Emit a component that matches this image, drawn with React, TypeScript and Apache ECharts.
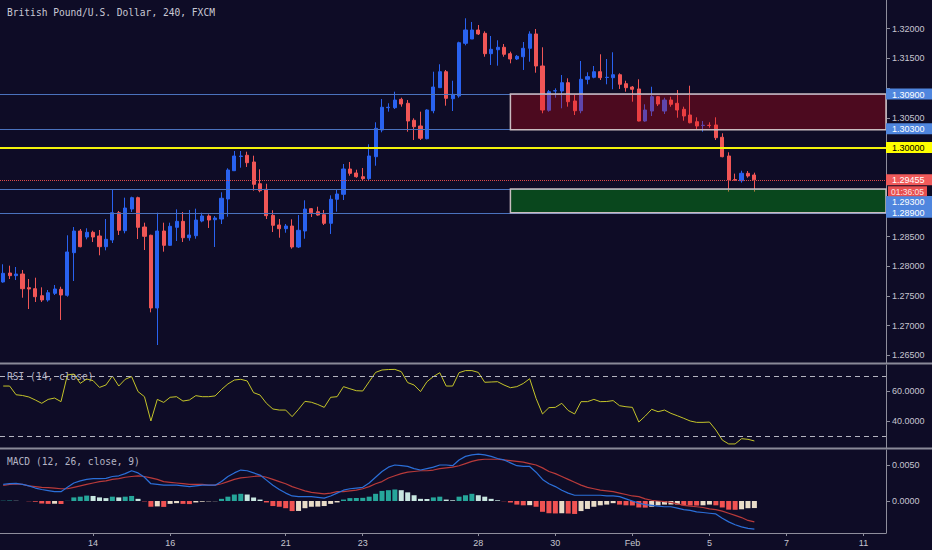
import React, { useEffect, useRef } from "react";
import * as echarts from "echarts";

const title = "British Pound/U.S. Dollar, 240, FXCM";
const rsiTitle = "RSI (14, close)";
const macdTitle = "MACD (12, 26, close, 9)";
const countdown = "01:36:05";

const slotCount = 138;
const tickSlots = [14, 26, 44, 56, 74, 86, 98, 110, 122, 134];
const tickLabels = ["14", "16", "21", "23", "28", "30", "Feb", "5", "7", "11"];
const priceTicks = [1.265, 1.27, 1.275, 1.28, 1.285, 1.29, 1.295, 1.3, 1.305, 1.31, 1.315, 1.32];
// tick labels that sit fully under the price boxes on the right
const coveredPriceLabels = [1.29, 1.295, 1.3, 1.31];
const rsiTicks = [40, 60];
const macdTicks = [0, 0.005];

const open = [1.27736,1.27887,1.27842,1.27870,1.27640,1.27623,1.27505,1.27433,1.27545,1.27613,
 1.27512,1.28229,1.28594,1.28493,1.28572,1.28510,1.28330,1.28443,1.28902,1.28599,
 1.28964,1.29155,1.28661,1.28522,1.27298,1.28594,1.28353,1.28656,1.28757,1.28481,
 1.28515,1.28762,1.28847,1.28784,1.28796,1.29133,1.29609,1.29848,1.29869,1.29756,
 1.29390,1.29296,1.28858,1.28695,1.28633,1.28678,1.28325,1.28594,1.28970,1.28919,
 1.28869,1.28724,1.29128,1.29212,1.29638,1.29571,1.29508,1.29475,1.29845,1.30294,
 1.30670,1.30670,1.30811,1.30744,1.30458,1.30362,1.30148,1.30619,1.31007,1.31276,
 1.30821,1.30867,1.31754,1.31826,1.31978,1.31922,1.31579,1.31646,1.31687,1.31579,
 1.31490,1.31528,1.31670,1.31911,1.31372,1.30626,1.30951,1.30951,1.31091,1.30783,
 1.30619,1.31148,1.31182,1.31276,1.31178,1.31175,1.31225,1.31074,1.31018,1.30985,
 1.30446,1.30614,1.30855,1.30614,1.30799,1.30744,1.30643,1.30547,1.30434,1.30370,
 1.30374,1.30379,1.30172,1.29857,1.29460,1.29441,1.29565,1.29537];

const high = [1.28034,1.28010,1.27988,1.27938,1.27786,1.27808,1.27646,1.27601,1.27685,1.27656,
 1.28522,1.28661,1.28628,1.28640,1.28599,1.28611,1.28796,1.29301,1.28931,1.29155,
 1.29172,1.29172,1.28734,1.28532,1.28902,1.28734,1.28734,1.28959,1.28914,1.28948,
 1.28970,1.28902,1.28875,1.28847,1.29246,1.29650,1.29941,1.29941,1.29929,1.29862,
 1.29633,1.29390,1.28943,1.28796,1.28712,1.28791,1.28863,1.29111,1.28981,1.29003,
 1.28948,1.29195,1.29284,1.29722,1.29756,1.29626,1.29655,1.30054,1.30424,1.30816,
 1.30744,1.30939,1.30838,1.30799,1.30491,1.30603,1.30643,1.31276,1.31401,1.31305,
 1.31124,1.31781,1.32175,1.32113,1.32062,1.31956,1.31877,1.31805,1.31742,1.31613,
 1.31557,1.31776,1.31956,1.31995,1.31687,1.30968,1.30996,1.31220,1.31165,1.30884,
 1.31456,1.31266,1.31372,1.31569,1.31490,1.31603,1.31249,1.31124,1.31035,1.31148,
 1.30727,1.31023,1.30867,1.30838,1.30855,1.30968,1.30687,1.31040,1.30508,1.30446,
 1.30424,1.30508,1.30239,1.29919,1.29560,1.29609,1.29604,1.29576];

const low = [1.27724,1.27786,1.27769,1.27471,1.27281,1.27399,1.27399,1.27404,1.27517,1.27096,
 1.27488,1.27752,1.28320,1.28454,1.28409,1.28185,1.28269,1.28392,1.28527,1.28555,
 1.28914,1.28459,1.28274,1.27225,1.26675,1.28246,1.28342,1.28426,1.28409,1.28431,
 1.28464,1.28741,1.28645,1.28325,1.28712,1.28835,1.29604,1.29660,1.29672,1.29273,
 1.29246,1.28796,1.28577,1.28481,1.28565,1.28296,1.28308,1.28464,1.28830,1.28852,
 1.28695,1.28544,1.28919,1.29116,1.29525,1.29491,1.29441,1.29436,1.29693,1.30256,
 1.30603,1.30648,1.30687,1.30266,1.30126,1.30126,1.30138,1.30576,1.31007,1.30704,
 1.30614,1.30838,1.31720,1.31826,1.31894,1.31528,1.31389,1.31377,1.31528,1.31417,
 1.31473,1.31305,1.31444,1.31259,1.30576,1.30603,1.30838,1.30660,1.30687,1.30547,
 1.30576,1.31064,1.31165,1.31136,1.31064,1.30980,1.30985,1.30939,1.30771,1.30440,
 1.30434,1.30530,1.30698,1.30564,1.30687,1.30501,1.30451,1.30407,1.30306,1.30266,
 1.30333,1.30126,1.29835,1.29256,1.29445,1.29408,1.29491,1.29256];

const close = [1.27882,1.27842,1.27870,1.27623,1.27618,1.27488,1.27433,1.27555,1.27618,1.27517,
 1.28241,1.28594,1.28330,1.28572,1.28493,1.28330,1.28454,1.28902,1.28606,1.28981,
 1.29155,1.28656,1.28505,1.27298,1.28594,1.28353,1.28673,1.28757,1.28481,1.28527,
 1.28779,1.28847,1.28779,1.28813,1.29145,1.29621,1.29857,1.29857,1.29744,1.29380,
 1.29273,1.28852,1.28690,1.28633,1.28678,1.28325,1.28606,1.28964,1.28902,1.28863,
 1.28724,1.29128,1.29217,1.29638,1.29565,1.29508,1.29475,1.29857,1.30323,1.30677,
 1.30677,1.30799,1.30732,1.30446,1.30350,1.30155,1.30631,1.31018,1.31276,1.30828,
 1.30895,1.31764,1.31978,1.31978,1.31911,1.31579,1.31653,1.31687,1.31569,1.31490,
 1.31535,1.31670,1.31911,1.31372,1.30631,1.30939,1.30956,1.31091,1.30771,1.30619,
 1.31148,1.31192,1.31276,1.31175,1.31182,1.31225,1.31064,1.31007,1.30980,1.30446,
 1.30631,1.30855,1.30732,1.30799,1.30727,1.30631,1.30530,1.30417,1.30362,1.30374,
 1.30370,1.30165,1.29845,1.29453,1.29450,1.29566,1.29520,1.29455];

const rsi = [63.3,63.3,57.5,57,56,54,51.8,54.4,55.3,52.9,
 70.7,71.3,65.1,68,66.9,62.4,64,70,63.3,67.8,
 69.6,59.6,56.2,40,54.4,52.4,55.8,56.2,53.3,54,
 56.9,56.2,56.2,56.7,61,64.7,67.3,67.8,66.7,58.9,
 57.3,51.8,48,47.3,47.3,42.9,47.8,53.1,52.5,51,
 49.1,55.8,56.2,62.9,61.5,60.2,60,66.2,72.4,74,
 74.3,74.4,72.9,65.6,64,59.6,66.2,69.6,72.2,63.3,
 63.3,72.2,73.6,73.6,72.4,65.8,66,66.2,64,62.2,
 62.9,65,68.2,55,44.7,48.9,49.1,51.8,47,44.7,
 52.9,52.9,54.4,52.9,53,53.6,50.2,49.5,49.1,39.3,
 43.3,47.8,46.2,47.3,45.1,43.5,41.8,40,39.1,39.1,
 39.3,34,27.3,24.7,24.7,28.2,27.8,26.7];

const macd = [0.0023,0.0024,0.00245,0.0023,0.0021,0.0018,0.0016,0.00145,0.0013,0.0013,
 0.0019,0.0025,0.0028,0.0030,0.0031,0.0031,0.00315,0.0034,0.0035,0.0038,
 0.0042,0.0039,0.0033,0.0024,0.0023,0.0022,0.0022,0.0022,0.0021,0.0020,
 0.0021,0.0022,0.0022,0.0022,0.0027,0.0034,0.0039,0.0043,0.0042,0.0039,
 0.0036,0.0029,0.0022,0.0016,0.0011,0.0007,0.0006,0.0006,0.0006,0.0005,
 0.0004,0.0007,0.0011,0.0015,0.0017,0.0018,0.0019,0.0025,0.0033,0.0041,
 0.0047,0.0050,0.0049,0.0048,0.0045,0.0043,0.0045,0.0047,0.0050,0.0050,
 0.0049,0.0057,0.0062,0.0064,0.0065,0.0064,0.0062,0.0059,0.0057,0.0053,
 0.0049,0.0048,0.0048,0.0040,0.0030,0.0024,0.0020,0.0015,0.0011,0.0008,
 0.0008,0.0008,0.0008,0.0008,0.0007,0.0007,0.0006,0.0003,0.0000,-0.0003,
 -0.0005,-0.0006,-0.0007,-0.0008,-0.0008,-0.0010,-0.0012,-0.0013,-0.0015,-0.0016,
 -0.0017,-0.0018,-0.0024,-0.0029,-0.0033,-0.0036,-0.0038,-0.0039];

const signal = [0.00215,0.0023,0.00236,0.0023,0.0021,0.0020,0.0019,0.00185,0.0018,0.0017,
 0.0017,0.0019,0.0021,0.0023,0.0025,0.0027,0.0028,0.0030,0.0031,0.0033,
 0.0034,0.0035,0.0034,0.0032,0.0030,0.0027,0.0026,0.0025,0.0024,0.0023,
 0.0023,0.0023,0.0022,0.0022,0.0024,0.0027,0.0030,0.0032,0.0033,0.0034,
 0.0035,0.0033,0.0030,0.0027,0.0024,0.0020,0.0017,0.0014,0.0012,0.0011,
 0.0010,0.0011,0.0013,0.0013,0.0014,0.0015,0.0017,0.0020,0.0024,0.0027,
 0.0032,0.0035,0.0038,0.0040,0.0041,0.0042,0.0042,0.0043,0.0045,0.0046,
 0.0047,0.0049,0.0052,0.0055,0.0057,0.0058,0.0058,0.0058,0.0057,0.0056,
 0.0055,0.0054,0.0052,0.0050,0.0046,0.0041,0.0038,0.0034,0.0030,0.0026,
 0.0022,0.0019,0.0017,0.0015,0.0014,0.0013,0.0011,0.0009,0.0007,0.0006,
 0.0003,0.0001,0.0000,-0.0001,-0.0002,-0.0004,-0.0006,-0.0007,-0.0008,-0.0009,
 -0.0011,-0.0012,-0.0014,-0.0017,-0.0020,-0.0023,-0.0027,-0.0029];

const hist = [0.00005,0.00006,0.00003,0,-0.00005,-0.0001,-0.00035,-0.0004,-0.00038,-0.00042,
 0.00002,0.0005,0.0006,0.00075,0.0007,0.0005,0.0004,0.0006,0.0005,0.0006,
 0.0007,0.0003,-0.00005,-0.0008,-0.00075,-0.00082,-0.0004,-0.0003,-0.0004,-0.00043,
 -0.0002,-0.0001,-0.00005,-0.00003,0.0003,0.0006,0.0009,0.001,0.0009,0.0005,
 0.0002,-0.0002,-0.0007,-0.0008,-0.001,-0.0014,-0.00138,-0.001,-0.0008,-0.00078,
 -0.0007,-0.0004,-0.0002,0.0002,0.0004,0.00042,0.00044,0.0006,0.001,0.0014,
 0.0015,0.0016,0.0015,0.0012,0.0008,0.0003,0.00028,0.0005,0.0006,0.0002,
 0.0001,0.0006,0.0008,0.001,0.0008,0.0006,0.0003,0.0001,-0.00003,-0.0002,
 -0.0005,-0.0006,-0.00058,-0.0008,-0.0015,-0.0017,-0.00173,-0.0017,-0.00174,-0.0018,
 -0.0014,-0.0011,-0.0008,-0.0006,-0.0005,-0.0003,-0.0005,-0.0006,-0.00062,-0.0009,
 -0.00092,-0.0008,-0.0006,-0.0005,-0.00049,-0.00048,-0.0006,-0.00062,-0.00063,-0.0006,
 -0.0005,-0.0006,-0.0009,-0.0012,-0.00122,-0.00115,-0.001,-0.00098];

const levels = [1.309, 1.303, 1.3, 1.29455, 1.293, 1.289];
const levelTexts = ["1.30900", "1.30300", "1.30000", "1.29455", "1.29300", "1.28900"];
const zoneStart = [79, 79];
const zoneLow = [1.303, 1.289];
const zoneHigh = [1.309, 1.293];
const rsiBands = [70, 30];

// ---- styling (not data) ----
const BG = "#0e0c26";
const AXIS = "#8e8e9c";
const LABEL = "#c6c6d0";
const UP = "#2962ef";
const DOWN = "#f05656";
const BLUE_LINE = "#4a72bd";
const levelStyle = [
  { color: BLUE_LINE, width: 1, type: "solid", bg: "#4f86de", fg: "#ffffff", dy: 0 },
  { color: BLUE_LINE, width: 1, type: "solid", bg: "#4f86de", fg: "#ffffff", dy: -1 },
  { color: "#f2f20c", width: 2, type: "solid", bg: "#ffff00", fg: "#000000", dy: 0 },
  { color: "#e04a4a", width: 1, type: "dotted", bg: "#f05a5a", fg: "#ffffff", dy: 0 },
  { color: BLUE_LINE, width: 1, type: "solid", bg: "#4f86de", fg: "#ffffff", dy: 12.5 },
  { color: BLUE_LINE, width: 1, type: "solid", bg: "#4f86de", fg: "#ffffff", dy: -0.5 },
];
const zoneFill = ["rgba(222,6,16,0.3)", "rgba(0,210,10,0.3)"];
const zoneStroke = "#c9bcc0";
const MONO = '"DejaVu Sans Mono", monospace';
const SANS = '"Liberation Sans", Arial, sans-serif';

const categories = Array.from({ length: slotCount }, (_, i) => "s" + i);
const showTick = (i: number) => tickSlots.indexOf(i) >= 0;

function histColor(i: number) {
  const v = hist[i];
  const p = i > 0 ? hist[i - 1] : 0;
  if (v >= 0) return v >= p ? "#26a69a" : "#c8e6e0";
  return v < p ? "#f05252" : "#e8dcc8";
}

function yAxisBase(gridIndex: number, min: number, max: number, ticks: number[], labels: number[], digits: number) {
  return {
    type: "value",
    gridIndex,
    position: "right",
    min,
    max,
    splitLine: { show: false },
    axisLine: { show: true, lineStyle: { color: AXIS, width: 1 } },
    axisTick: { show: true, length: 4, customValues: ticks, lineStyle: { color: AXIS } },
    axisLabel: {
      customValues: labels,
      formatter: (v: number) => v.toFixed(digits),
      color: LABEL,
      fontSize: 9,
      fontFamily: SANS,
      margin: 6,
    },
  };
}

function xAxisBase(gridIndex: number, visible: boolean) {
  return {
    type: "category",
    gridIndex,
    data: categories,
    boundaryGap: true,
    axisLine: { show: visible, onZero: false, lineStyle: { color: AXIS, width: 1 } },
    axisTick: {
      show: visible,
      interval: (i: number) => showTick(i),
      alignWithLabel: true,
      length: 3,
      lineStyle: { color: AXIS },
    },
    axisLabel: {
      show: visible,
      interval: (i: number) => showTick(i),
      formatter: (_v: string, i: number) => {
        const k = tickSlots.indexOf(i);
        return k >= 0 ? tickLabels[k] : "";
      },
      color: LABEL,
      fontSize: 9,
      fontFamily: SANS,
      margin: 5,
    },
    splitLine: { show: false },
  };
}

export default function App() {
  const ref = useRef<HTMLDivElement>(null);
  useEffect(() => {
    document.body.style.margin = "0";
    document.body.style.background = BG;
    const chart = echarts.init(ref.current!, null, { renderer: "svg" });
    const priceLabels = priceTicks.filter((t) => coveredPriceLabels.indexOf(t) < 0);
    const option: any = {
      animation: false,
      backgroundColor: BG,
      grid: [
        { left: 0, right: 46, top: 0, height: 363 },
        { left: 0, right: 46, top: 365, height: 83 },
        { left: 0, right: 46, top: 450, height: 83 },
      ],
      xAxis: [xAxisBase(0, false), xAxisBase(1, false), xAxisBase(2, true)],
      yAxis: [
        yAxisBase(0, 1.26372, 1.32483, priceTicks, priceLabels, 5),
        yAxisBase(1, 22.0, 77.33, rsiTicks, rsiTicks, 4),
        yAxisBase(2, -0.004444, 0.007083, macdTicks, macdTicks, 4),
      ],
      series: [
        {
          type: "candlestick",
          xAxisIndex: 0,
          yAxisIndex: 0,
          barWidth: 3.6,
          data: open.map((o, i) => [o, close[i], low[i], high[i]]),
          itemStyle: { color: UP, color0: DOWN, borderColor: UP, borderColor0: DOWN, borderWidth: 1 },
          markLine: {
            silent: true,
            precision: 5,
            symbol: ["none", "none"],
            label: { show: false },
            data: levels.map((v, i) => ({
              yAxis: v,
              lineStyle: { color: levelStyle[i].color, width: levelStyle[i].width, type: levelStyle[i].type },
            })),
          },
        },
        {
          type: "custom",
          xAxisIndex: 0,
          yAxisIndex: 0,
          z: 10,
          silent: true,
          encode: { x: 0, y: [1, 2] },
          data: zoneStart.map((s, i) => [s, zoneLow[i], zoneHigh[i]]),
          renderItem: (params: any, api: any) => {
            const i = params.dataIndex;
            const top = api.coord([api.value(0), api.value(2)]);
            const bot = api.coord([api.value(0), api.value(1)]);
            const cs = params.coordSys;
            const right = cs.x + cs.width;
            return {
              type: "rect",
              shape: { x: top[0], y: top[1], width: right - top[0], height: bot[1] - top[1] },
              style: { fill: zoneFill[i], stroke: zoneStroke, lineWidth: 1.5 },
            };
          },
        },
        {
          type: "line",
          xAxisIndex: 1,
          yAxisIndex: 1,
          data: rsi,
          symbol: "none",
          lineStyle: { color: "#c4c42a", width: 1 },
          markLine: {
            silent: true,
            precision: 2,
            symbol: ["none", "none"],
            label: { show: false },
            lineStyle: { color: "#b4b4c0", width: 1, type: [5, 4] },
            data: rsiBands.map((v) => ({ yAxis: v })),
          },
        },
        {
          type: "bar",
          xAxisIndex: 2,
          yAxisIndex: 2,
          barWidth: "78%",
          data: hist.map((v, i) => ({ value: v, itemStyle: { color: histColor(i) } })),
        },
        {
          type: "line",
          xAxisIndex: 2,
          yAxisIndex: 2,
          data: signal,
          symbol: "none",
          lineStyle: { color: "#b83a3a", width: 1.2 },
          z: 4,
        },
        {
          type: "line",
          xAxisIndex: 2,
          yAxisIndex: 2,
          data: macd,
          symbol: "none",
          lineStyle: { color: "#2b6fd8", width: 1.2 },
          z: 5,
        },
      ],
    };
    chart.setOption(option);

    const py = (v: number) => chart.convertToPixel({ yAxisIndex: 0 } as any, v) as unknown as number;
    const graphics: any[] = [
      { type: "text", x: 7, y: 12, z: 0, style: { text: title, fill: "#c8c8d4", font: "9.6px " + MONO, verticalAlign: "middle" } },
      { type: "text", x: 7, y: 376, z: 0, style: { text: rsiTitle, fill: "#b4b4c4", font: "9.6px " + MONO, verticalAlign: "middle" } },
      { type: "text", x: 7, y: 461, z: 0, style: { text: macdTitle, fill: "#b4b4c4", font: "9.6px " + MONO, verticalAlign: "middle" } },
      { type: "line", z: 50, shape: { x1: 0, y1: 363.5, x2: 932, y2: 363.5 }, style: { stroke: "#8a8a98", lineWidth: 2 } },
      { type: "line", z: 50, shape: { x1: 0, y1: 448.5, x2: 932, y2: 448.5 }, style: { stroke: "#8a8a98", lineWidth: 2 } },
    ];
    levels.forEach((v, i) => {
      const cy = py(v) + levelStyle[i].dy;
      graphics.push({ type: "rect", z: 100, shape: { x: 886, y: cy - 5.5, width: 46, height: 11 }, style: { fill: levelStyle[i].bg } });
      graphics.push({ type: "text", z: 101, x: 892, y: cy + 0.5, style: { text: levelTexts[i], fill: levelStyle[i].fg, font: "9px " + SANS, lineHeight: 9, verticalAlign: "middle" } });
    });
    const cdy = py(levels[3]) + 11.5;
    graphics.push({ type: "rect", z: 100, shape: { x: 888, y: cdy - 5, width: 39, height: 10 }, style: { fill: "#e84f4f" } });
    graphics.push({ type: "text", z: 101, x: 907.5, y: cdy + 0.5, style: { text: countdown, fill: "#ffe2e2", font: "8.5px " + SANS, lineHeight: 8.5, align: "center", verticalAlign: "middle" } });
    chart.setOption({ graphic: graphics });

    return () => chart.dispose();
  }, []);
  return <div ref={ref} style={{ width: 932, height: 550, background: BG }} />;
}
